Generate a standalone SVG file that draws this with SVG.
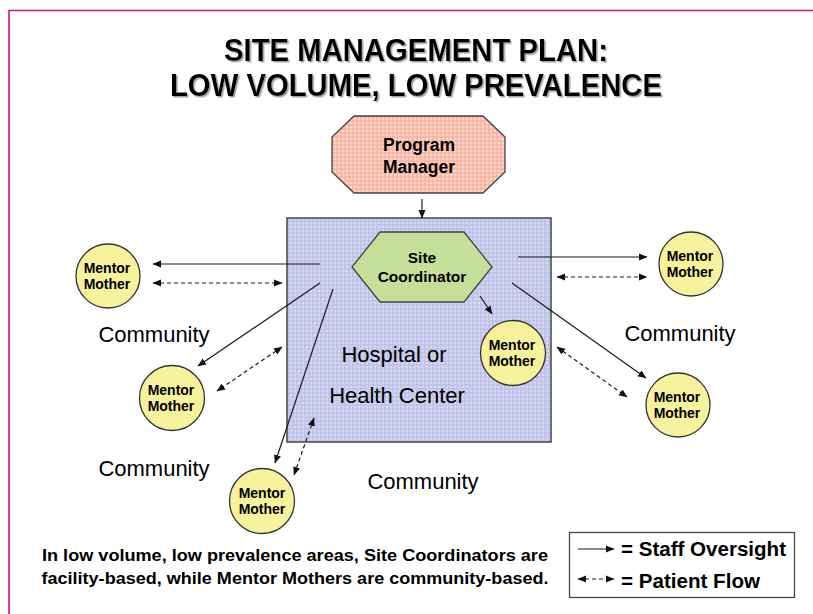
<svg xmlns="http://www.w3.org/2000/svg" width="813" height="614" viewBox="0 0 813 614">
<style>
.b{font-family:"Liberation Sans",Arial,sans-serif;font-weight:bold;fill:#000}
.mm{fill:#f6f19c;stroke:#333;stroke-width:1.3}
.mt{font-family:"Liberation Sans",Arial,sans-serif;font-weight:bold;font-size:14px;text-anchor:middle}
.s{fill:none;stroke:#1a1a1a;stroke-width:1.2;marker-end:url(#ah)}
.d{fill:none;stroke:#1a1a1a;stroke-width:1.2;stroke-dasharray:4 3;marker-start:url(#ah);marker-end:url(#ah)}
.c{font-family:"Liberation Sans",Arial,sans-serif;font-size:22px;text-anchor:middle}
</style>
<defs>
<pattern id="blue" width="4" height="4" patternUnits="userSpaceOnUse">
<rect width="4" height="4" fill="#d6d8f2"/>
<path d="M0 1H4M1 0V4" stroke="#bfc2e8" stroke-width="1.5"/>
</pattern>
<pattern id="pink" width="4" height="4" patternUnits="userSpaceOnUse">
<rect width="4" height="4" fill="#fcd6c9"/>
<path d="M0 1H4M1 0V4" stroke="#f6b4a3" stroke-width="1.5"/>
</pattern>
<marker id="ah" markerWidth="9" markerHeight="8" refX="8" refY="4" orient="auto-start-reverse" markerUnits="userSpaceOnUse">
<path d="M0,0.5 L8.5,4 L0,7.5 Z" fill="#111"/>
</marker>
<filter id="sh" x="-5%" y="-20%" width="110%" height="150%">
<feDropShadow dx="1.5" dy="1.5" stdDeviation="0.6" flood-color="#999" flood-opacity="0.9"/>
</filter>
</defs>
<rect width="813" height="614" fill="#fff"/>
<path d="M9 614V10.5H813" fill="none" stroke="#c8177f" stroke-width="1.6"/>
<g id="title" filter="url(#sh)">
<text class="b" x="416" y="61" font-size="31" text-anchor="middle" textLength="384" lengthAdjust="spacingAndGlyphs">SITE MANAGEMENT PLAN:</text>
<text class="b" x="416" y="96" font-size="31" text-anchor="middle" textLength="492" lengthAdjust="spacingAndGlyphs">LOW VOLUME, LOW PREVALENCE</text>
</g>
<g id="hospital">
<rect x="287" y="218" width="264" height="224" fill="url(#blue)" stroke="#444" stroke-width="1.5"/>
<text class="c" x="394" y="362" font-size="22.5">Hospital or</text>
<text class="c" x="397" y="403" font-size="22.5">Health Center</text>
</g>
<g id="program-manager">
<polygon points="354,116 483,116 505,137 505,172 483,193 354,193 332,172 332,137" fill="url(#pink)" stroke="#444" stroke-width="1.3"/>
<text class="b" x="419" y="151" font-size="17.5" text-anchor="middle">Program</text>
<text class="b" x="419" y="173" font-size="17.5" text-anchor="middle">Manager</text>
</g>
<g id="site-coordinator">
<polygon points="380,232 464,232 492,267 464,302 380,302 352,267" fill="#c5df9a" stroke="#444" stroke-width="1.3"/>
<text class="b" x="422" y="263" font-size="15.5" text-anchor="middle">Site</text>
<text class="b" x="422" y="282" font-size="15.5" text-anchor="middle">Coordinator</text>
</g>
<g id="mm-left-top"><circle class="mm" cx="108" cy="276" r="32"/><text class="mt" x="107" y="273">Mentor</text><text class="mt" x="107" y="289">Mother</text></g>
<g id="mm-left-mid"><circle class="mm" cx="172" cy="398" r="32.5"/><text class="mt" x="171" y="395">Mentor</text><text class="mt" x="171" y="411">Mother</text></g>
<g id="mm-bottom"><circle class="mm" cx="262" cy="501" r="32.5"/><text class="mt" x="262" y="498">Mentor</text><text class="mt" x="262" y="514">Mother</text></g>
<g id="mm-inside"><circle class="mm" cx="513" cy="353" r="32.5"/><text class="mt" x="512" y="350">Mentor</text><text class="mt" x="512" y="366">Mother</text></g>
<g id="mm-right-top"><circle class="mm" cx="691" cy="264" r="32"/><text class="mt" x="690" y="261">Mentor</text><text class="mt" x="690" y="277">Mother</text></g>
<g id="mm-right-bottom"><circle class="mm" cx="678" cy="405" r="32"/><text class="mt" x="677" y="402">Mentor</text><text class="mt" x="677" y="418">Mother</text></g>
<g id="labels">
<text class="c" x="154" y="342">Community</text>
<text class="c" x="680" y="341">Community</text>
<text class="c" x="154" y="476">Community</text>
<text class="c" x="423" y="489">Community</text>
</g>
<g id="connectors">
<line class="s" x1="422" y1="199" x2="422" y2="218"/>
<line class="s" x1="320" y1="264" x2="153" y2="264"/>
<line class="d" x1="153" y1="283" x2="282" y2="283"/>
<line class="s" x1="320" y1="283" x2="198" y2="366"/>
<line class="d" x1="282" y1="347" x2="217" y2="391"/>
<line class="s" x1="333" y1="289" x2="275" y2="463"/>
<line class="d" x1="314" y1="418" x2="294" y2="475"/>
<line class="s" x1="480" y1="296" x2="492" y2="314"/>
<line class="s" x1="518" y1="257" x2="647" y2="257"/>
<line class="d" x1="557" y1="277" x2="647" y2="277"/>
<line class="s" x1="512" y1="283" x2="646" y2="378"/>
<line class="d" x1="557" y1="347" x2="627" y2="397"/>
</g>
<g id="note">
<text class="b" x="295" y="561" font-size="16.5" text-anchor="middle" textLength="506" lengthAdjust="spacingAndGlyphs">In low volume, low prevalence areas, Site Coordinators are</text>
<text class="b" x="295" y="584" font-size="16.5" text-anchor="middle" textLength="507" lengthAdjust="spacingAndGlyphs">facility-based, while Mentor Mothers are community-based.</text>
</g>
<g id="legend">
<rect x="569.5" y="532.5" width="225" height="65" fill="#fff" stroke="#444" stroke-width="1.3"/>
<line class="s" x1="578" y1="549" x2="614" y2="549"/>
<line class="d" x1="578" y1="579" x2="614" y2="579"/>
<text class="b" x="621" y="556" font-size="20" textLength="165" lengthAdjust="spacingAndGlyphs">= Staff Oversight</text>
<text class="b" x="621" y="588" font-size="20" textLength="139" lengthAdjust="spacingAndGlyphs">= Patient Flow</text>
</g>
</svg>
